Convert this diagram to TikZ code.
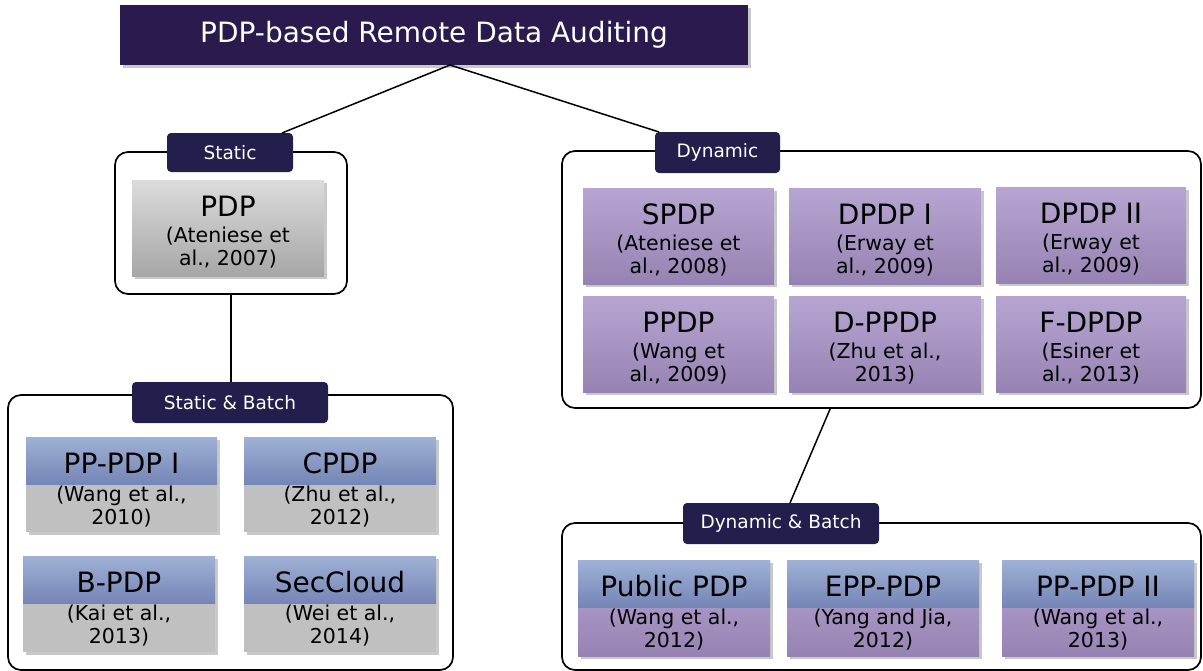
\documentclass[tikz,border=0pt]{standalone}
\usepackage{fontspec}
\setmainfont{DejaVu Sans}
\usetikzlibrary{shadows}
\definecolor{titlebg}{HTML}{2B1A4E}
\definecolor{tabbg}{HTML}{231E4B}
\definecolor{grayT}{HTML}{DCDCDC}
\definecolor{grayB}{HTML}{A6A6A6}
\definecolor{purT}{HTML}{B7A5D1}
\definecolor{purB}{HTML}{9683B3}
\definecolor{bluT}{HTML}{A0B1D6}
\definecolor{bluB}{HTML}{7585B6}
\definecolor{grayF}{HTML}{C0C0C0}
\tikzset{
  shad/.style={drop shadow={shadow xshift=2.5pt, shadow yshift=-2.5pt, opacity=0.3, fill=black!70}},
  box/.style={anchor=north west, inner sep=0, outer sep=0, shad},
  graybox/.style={box, top color=grayT, bottom color=grayB},
  purbox/.style={box, top color=purT, bottom color=purB},
  flatgray/.style={box, fill=grayF},
  bluetop/.style={anchor=north west, inner sep=0, outer sep=0, top color=bluT, bottom color=bluB},
  container/.style={anchor=north west, draw=black, line width=1.7pt, rounded corners=13pt, inner sep=0, outer sep=0},
  tab/.style={anchor=north west, fill=tabbg, text=white, rounded corners=4pt, inner sep=0, outer sep=0, font=\fontsize{18.5}{20}\selectfont},
  ttl/.style={anchor=base, inner sep=0, font=\fontsize{28}{30}\selectfont},
  cite/.style={anchor=base, inner sep=0, font=\fontsize{20.5}{22}\selectfont},
  link/.style={draw=black, line width=1.5pt}
}
\newcommand\onebox[9]{%
  \node[#2, minimum width={#5pt-#3pt}, minimum height={#6pt-#4pt}] (#1) at (#3,#4) {};
  \node[ttl] (#1-t) at ({(#3+#5)/2},{#4+36}) {#7};
  \node[cite] (#1-a) at ({(#3+#5)/2},{#4+62}) {#8};
  \node[cite] (#1-b) at ({(#3+#5)/2},{#4+85}) {#9};
}
\newcommand\twobox[9]{%
  \node[#2, minimum width={#5pt-#3pt}, minimum height={#6pt-#4pt}] (#1) at (#3,#4) {};
  \node[bluetop, minimum width={#5pt-#3pt}, minimum height=47pt] (#1-top) at (#3,#4) {};
  \node[ttl] (#1-t) at ({(#3+#5)/2},{#4+36}) {#7};
  \node[cite] (#1-a) at ({(#3+#5)/2},{#4+64}) {#8};
  \node[cite] (#1-b) at ({(#3+#5)/2},{#4+87}) {#9};
}
\begin{document}
\begin{tikzpicture}[x=1pt,y=-1pt]
\useasboundingbox (0,0) rectangle (1203,670);
% title
\node[anchor=north west, fill=titlebg, text=white, minimum width=628pt, minimum height=60pt, inner sep=0, outer sep=0, shad, font=\fontsize{28}{30}\selectfont] (title) at (120,5) {PDP-based Remote Data Auditing};
% containers
\node[container, minimum width=232pt, minimum height=142pt] (staticC) at (115,152) {};
\node[container, minimum width=445pt, minimum height=275pt] (sbC) at (8,395) {};
\node[container, minimum width=639pt, minimum height=257pt] (dynC) at (562,151) {};
\node[container, minimum width=639pt, minimum height=147pt] (dbC) at (562,523) {};
% tabs
\node[tab, minimum width=126pt, minimum height=39pt] (stab) at (167,133) {Static};
\node[tab, minimum width=196pt, minimum height=41pt] (sbtab) at (132,382) {Static \& Batch};
\node[tab, minimum width=125pt, minimum height=41pt] (dtab) at (655,132) {Dynamic};
\node[tab, minimum width=196pt, minimum height=41pt] (dbtab) at (683,503) {Dynamic \& Batch};
% connectors
\draw[link] ([xshift=16pt]title.south) -- ([xshift=52pt]stab.north);
\draw[link] ([xshift=16pt]title.south) -- ([xshift=4pt]dtab.north west);
\draw[link] (staticC.south) -- (staticC.south |- sbtab.north);
\draw[link] ([xshift=-51pt]dynC.south) -- ([xshift=9pt]dbtab.north);
% static
\onebox{pdp}{graybox}{132}{180}{324}{276}{PDP}{(Ateniese et}{al., 2007)}
% static & batch
\twobox{pppdp1}{flatgray}{26}{437}{217}{532}{PP-PDP I}{(Wang et al.,}{2010)}
\twobox{cpdp}{flatgray}{244}{437}{436}{532}{CPDP}{(Zhu et al.,}{2012)}
\twobox{bpdp}{flatgray}{23}{556}{215}{652}{B-PDP}{(Kai et al.,}{2013)}
\twobox{seccloud}{flatgray}{244}{556}{436}{652}{SecCloud}{(Wei et al.,}{2014)}
% dynamic
\onebox{spdp}{purbox}{583}{188}{774}{284}{SPDP}{(Ateniese et}{al., 2008)}
\onebox{dpdp1}{purbox}{789}{188}{981}{284}{DPDP I}{(Erway et}{al., 2009)}
\onebox{dpdp2}{purbox}{996}{187}{1186}{283}{DPDP II}{(Erway et}{al., 2009)}
\onebox{ppdp}{purbox}{583}{296}{774}{392}{PPDP}{(Wang et}{al., 2009)}
\onebox{dppdp}{purbox}{789}{296}{981}{392}{D-PPDP}{(Zhu et al.,}{2013)}
\onebox{fdpdp}{purbox}{996}{296}{1186}{392}{F-DPDP}{(Esiner et}{al., 2013)}
% dynamic & batch
\twobox{pubpdp}{purbox}{578}{560}{770}{656}{Public PDP}{(Wang et al.,}{2012)}
\twobox{epppdp}{purbox}{787}{560}{979}{656}{EPP-PDP}{(Yang and Jia,}{2012)}
\twobox{pppdp2}{purbox}{1002}{560}{1194}{656}{PP-PDP II}{(Wang et al.,}{2013)}
\end{tikzpicture}
\end{document}
